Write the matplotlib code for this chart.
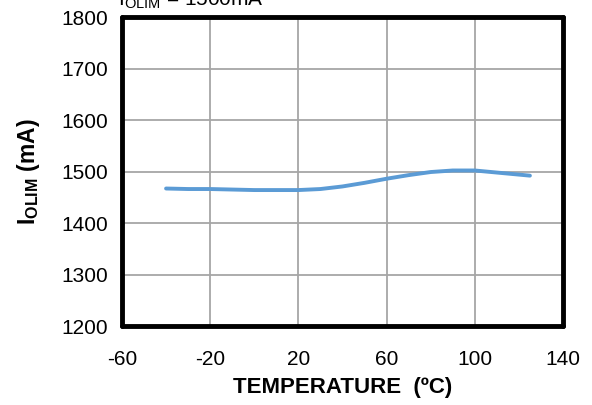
import matplotlib
matplotlib.use("Agg")
import matplotlib.pyplot as plt

# values
temperature_c = [-40, -30, -20, -10, 0, 10, 20, 30, 40, 50, 60, 70, 80, 90, 100, 110, 125]
i_olim_ma = [1467, 1466, 1466, 1465, 1464, 1464, 1464, 1466, 1471, 1478, 1486, 1493, 1499, 1502, 1502, 1498, 1492]

x_ticks = [-60, -20, 20, 60, 100, 140]
y_ticks = [1200, 1300, 1400, 1500, 1600, 1700, 1800]

plt.rcParams["font.family"] = ["Liberation Sans", "DejaVu Sans"]
plt.rcParams["axes.unicode_minus"] = False
plt.rcParams["mathtext.fontset"] = "custom"
plt.rcParams["mathtext.rm"] = "Liberation Sans"
plt.rcParams["mathtext.bf"] = "Liberation Sans:bold"

fig = plt.figure(figsize=(5.92, 4.05), dpi=100)
ax = fig.add_axes([0.206, 0.195, 0.745, 0.763])

ax.plot(temperature_c, i_olim_ma, color="#5b9bd5", linewidth=2.8,
        solid_capstyle="round", zorder=3)

ax.set_xlim(-60, 140)
ax.set_ylim(1200, 1800)
ax.set_xticks(x_ticks)
ax.set_yticks(y_ticks)
ax.grid(True, color="#a6a6a6", linewidth=1.3)
ax.tick_params(length=0, labelsize=15, pad=10, colors="black")
ax.tick_params(axis="x", pad=17)

for s in ax.spines.values():
    s.set_linewidth(3.5)
    s.set_color("black")
    s.set_capstyle("round")

ax.set_xlabel("TEMPERATURE  (ºC)", fontsize=16, fontweight="bold", labelpad=6)
ax.set_ylabel(r"I$_{\mathbf{OLIM}}$ (mA)", fontsize=16.5, fontweight="bold", labelpad=14)

fig.text(0.2, 1.0, r"I$_{\mathregular{OLIM}}$ = 1500mA", fontsize=15,
         ha="left", va="center")

fig.savefig("out.png", dpi=100)
